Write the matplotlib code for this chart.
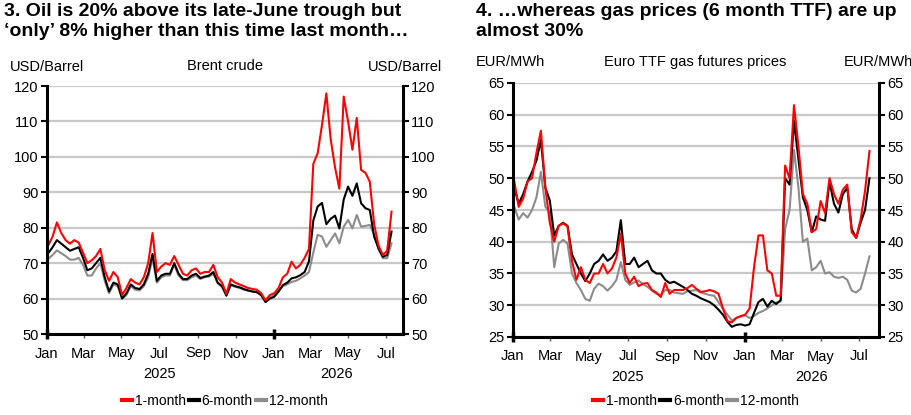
import matplotlib
matplotlib.use('Agg')
import matplotlib.pyplot as plt
import matplotlib.dates as mdates
import matplotlib.transforms as mtransforms
from matplotlib.lines import Line2D
import pandas as pd

plt.rcParams['font.family'] = ['Liberation Sans', 'DejaVu Sans']

# ---------------- data ----------------
oil_dates = pd.date_range('2025-01-03', periods=80, freq='7D')
oil_1m = [75, 77.5, 81.5, 78.5, 76.5, 75.5, 76.5, 75.8, 73, 70,
          70.8, 72, 74, 68, 65, 67.5, 66, 61, 63, 65.5,
          64.5, 64, 66, 70, 78.5, 67.5, 69, 70, 69.5, 72,
          69.5, 67, 66.5, 68, 68.5, 67, 67.5, 67.5, 69.5, 66,
          64.5, 61.3, 65.5, 64.5, 64, 63.5, 63, 62.7, 62.5, 61.5,
          59.5, 61, 61.5, 63, 66, 67, 70.4, 68.5, 69.5, 71.5,
          74, 98, 101, 109, 117.9, 105, 97, 91, 117, 110,
          102, 111, 96.3, 95.5, 93, 81, 75, 72.3, 73.5, 84.5]
oil_6m = [72.8, 74.5, 76.5, 75.5, 74.5, 73.5, 74, 74.5, 71.5, 68,
          68.5, 70, 71.5, 66, 62, 64.5, 64, 60, 61.5, 64,
          63, 62.7, 64, 67, 72.6, 65, 66.5, 67, 67, 70,
          67, 65.5, 65.5, 66.5, 67, 65.8, 66.2, 66.5, 67.5, 64.5,
          63.5, 60.8, 64, 63.5, 63.2, 62.7, 62.3, 62, 61.8, 61,
          59, 60, 60.5, 62, 63.8, 64.5, 65.7, 66, 66.6, 67.5,
          70.5, 82, 86, 87, 81, 82.5, 83.4, 79.8, 88, 91.6,
          89, 92.5, 86.9, 85.5, 85, 77.5, 74.2, 71.8, 72.3, 78.9]
oil_12m = [71.2, 72.3, 73.6, 72.8, 72, 71, 71, 71.5, 69.5, 66.5,
           66.5, 68.5, 70, 65, 61.5, 64, 63.5, 60, 61, 63.5,
           62.5, 62.3, 63.5, 66, 71.4, 64.5, 66, 66.5, 66.5, 69.5,
           66.5, 65.2, 65.2, 66, 66.5, 65.5, 66, 66.2, 67, 64.3,
           63.3, 61, 63.8, 63.3, 63, 62.5, 62.2, 62, 61.8, 61,
           59.3, 60.3, 61, 62, 63.5, 64, 64.7, 65, 65.7, 66.5,
           67.5, 73, 78, 77.5, 74.6, 76.5, 78.4, 75.6, 80.3, 82.2,
           79.8, 83.6, 80.3, 80.5, 80.8, 78, 74, 71.4, 71.4, 75.6]

gas_dates = pd.date_range('2025-01-03', periods=81, freq='7D')
gas_1m = [49.5, 45.5, 46.8, 49.5, 50, 54, 57.5, 48.5, 43, 40,
          42.5, 42.9, 42.4, 37, 34, 36, 34, 33.5, 35, 35,
          36.5, 35, 35.8, 37.5, 41.3, 35, 33.5, 34.5, 33, 33.4,
          33.5, 32.4, 32, 31.3, 33.5, 31.8, 32.4, 32.4, 32.4, 32.7,
          33.2, 32.6, 32.1, 32.2, 32.4, 32.2, 31.8, 29.5, 27.5, 27.3,
          28, 28.3, 28.5, 29.5, 36, 41, 41, 35.5, 35, 31.5,
          31.5, 52, 50, 61.5, 55, 47.5, 46, 41.5, 42, 46.4,
          44.5, 50, 47.5, 46, 48.2, 49, 41.5, 40.6, 43.5, 48, 54.3]
gas_6m = [48.5, 46, 47.5, 49.5, 51, 52.8, 56, 48.5, 46.5, 41,
          42.5, 43, 42.5, 38, 36.5, 35, 33.8, 35, 36.5, 37,
          38, 37, 37.5, 38.5, 43.4, 36.5, 36.5, 37.5, 36, 36.5,
          37, 35.5, 35, 35, 34, 33.5, 33.7, 33.3, 32.9, 32.4,
          31.8, 31.5, 31.1, 30.8, 30.5, 30, 29.3, 28.5, 27.4, 26.6,
          26.9, 27, 26.8, 27, 28.8, 30.5, 31, 29.8, 30.7, 30.2,
          30.8, 50, 49, 59, 53, 47, 45, 41.5, 44, 43.5,
          43.3, 49.5, 46, 44.6, 47.5, 48.5, 42, 40.6, 43, 45, 50]
gas_12m = [45.5, 43.5, 44.5, 43.8, 45, 47, 51, 45.5, 44.7, 36,
           39.7, 40.3, 39.7, 35, 33.5, 32.4, 31, 30.7, 32.6, 33.4,
           33, 32.3, 33, 34, 36.8, 34, 33.2, 33.6, 33.9, 33.3,
           32.9, 32.3, 31.8, 31.6, 32.4, 32.4, 32, 31.9, 31.8, 32.2,
           32.3, 32.4, 32, 31.8, 31.6, 31.5, 30.5, 29.5, 28.5, 27.6,
           28, 28.2, 28.4, 28, 28.3, 28.8, 29.1, 29.5, 30, 30.4,
           30.6, 42, 45, 54.5, 48.5, 40, 40.5, 35.5, 36, 37,
           35, 35.2, 34.5, 34.3, 34.5, 34, 32.3, 32, 32.6, 35, 37.7]

series_labels = ['1-month', '6-month', '12-month']
series_colors = ['#ff0000', '#000000', '#8c8c8c']
oil_yticks = [50, 60, 70, 80, 90, 100, 110, 120]
gas_yticks = [25, 30, 35, 40, 45, 50, 55, 60, 65]
year_labels = ['2025', '2026']

W, H = 912, 415
fig = plt.figure(figsize=(W / 100, H / 100), dpi=100)


def px_axes(l, t, r, b):
    return fig.add_axes([l / W, 1 - b / H, (r - l) / W, (b - t) / H])


ax1 = px_axes(47, 86, 402.7, 334)
ax2 = px_axes(513, 83, 879, 337)

FS = 10.5


def style(ax, dates, data, yticks, xend, year2_center):
    for vals, col, z in zip(data[::-1], series_colors[::-1], [2, 3, 4]):
        ax.plot(dates, vals, color=col, lw=1.5, zorder=z, solid_joinstyle='round')
    ax.set_xlim(pd.Timestamp('2025-01-01'), pd.Timestamp(xend))
    ax.set_ylim(yticks[0], yticks[-1])
    ax.set_yticks(yticks)
    ax.grid(axis='y', color='#c8c8c8', lw=1.6)
    ax.set_axisbelow(True)
    ax.spines['top'].set_visible(False)
    for s in ['left', 'right', 'bottom']:
        ax.spines[s].set_linewidth(2.2)
        ax.spines[s].set_zorder(6)
    ax.tick_params(axis='y', which='major', left=True, right=True,
                   labelleft=True, labelright=True, direction='out',
                   length=4, width=1.5, labelsize=FS, pad=2)
    ax.xaxis.set_major_locator(mdates.MonthLocator(bymonth=[1]))
    ax.xaxis.set_minor_locator(mdates.MonthLocator(bymonth=[3, 5, 7, 9, 11]))
    ax.xaxis.set_major_formatter(mdates.DateFormatter('%b'))
    ax.xaxis.set_minor_formatter(mdates.DateFormatter('%b'))
    ax.tick_params(axis='x', which='major', direction='inout', length=7,
                   width=2.5, labelsize=FS, pad=5.5)
    ax.tick_params(axis='x', which='minor', direction='out', length=3,
                   width=1, labelsize=FS, pad=6, color='#555555')
    trans = mtransforms.blended_transform_factory(ax.transData, ax.transAxes)
    y_year = -40 / ((ax.get_position().height) * H)
    ax.text(mdates.date2num(pd.Timestamp('2025-07-01')), y_year, year_labels[0],
            transform=trans, ha='center', va='center', fontsize=FS)
    ax.text(mdates.date2num(pd.Timestamp(year2_center)), y_year, year_labels[1],
            transform=trans, ha='center', va='center', fontsize=FS)


style(ax1, oil_dates, [oil_1m, oil_6m, oil_12m], oil_yticks, '2026-07-28', '2026-04-13')
style(ax2, gas_dates, [gas_1m, gas_6m, gas_12m], gas_yticks, '2026-08-01', '2026-04-16')

# legends
handles = [Line2D([0], [0], color=c, lw=3) for c in series_colors]
for cx in [225, 696]:
    fig.legend(handles, series_labels, loc='center', bbox_to_anchor=(cx / W, 1 - 401 / H),
               ncol=3, frameon=False, fontsize=10, handlelength=0.7,
               handletextpad=0.2, columnspacing=0.25, borderpad=0)

# titles
TFS = 14
fig.text(4 / W, 1 - 11 / H, '3. Oil is 20% above its late-June trough but',
         fontsize=TFS, fontweight='bold', va='center', ha='left')
fig.text(4 / W, 1 - 32 / H, '\u2018only\u2019 8% higher than this time last month\u2026',
         fontsize=TFS, fontweight='bold', va='center', ha='left')
fig.text(476 / W, 1 - 11 / H, '4. \u2026whereas gas prices (6 month TTF) are up',
         fontsize=TFS, fontweight='bold', va='center', ha='left')
fig.text(476 / W, 1 - 32 / H, 'almost 30%',
         fontsize=TFS, fontweight='bold', va='center', ha='left')

# unit / subtitle labels
fig.text(10 / W, 1 - 67 / H, 'USD/Barrel', fontsize=FS, va='center', ha='left')
fig.text(225 / W, 1 - 66 / H, 'Brent crude', fontsize=FS, va='center', ha='center')
fig.text(368 / W, 1 - 67 / H, 'USD/Barrel', fontsize=FS, va='center', ha='left')
fig.text(476 / W, 1 - 62 / H, 'EUR/MWh', fontsize=FS, va='center', ha='left')
fig.text(695 / W, 1 - 62 / H, 'Euro TTF gas futures prices', fontsize=FS, va='center', ha='center')
fig.text(844 / W, 1 - 62 / H, 'EUR/MWh', fontsize=FS, va='center', ha='left')

fig.savefig('out.png', dpi=100)
